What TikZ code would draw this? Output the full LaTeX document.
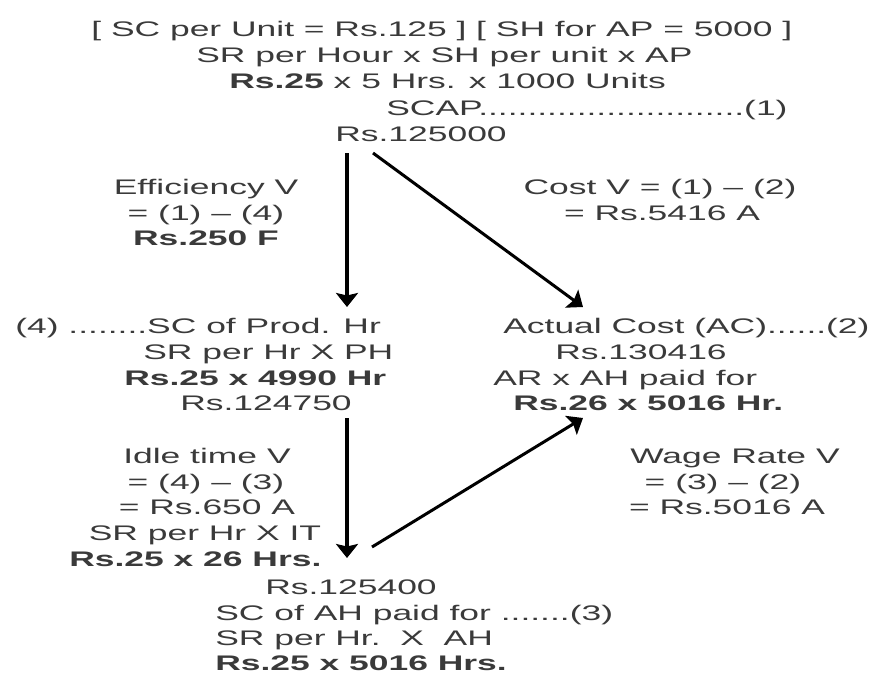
\documentclass[tikz,border=0pt]{standalone}
\usepackage{fontspec}
\setmainfont{Liberation Sans}[FakeStretch=1.68]
\usepackage{xcolor}
\usetikzlibrary{arrows.meta}
\definecolor{txtgray}{HTML}{3A3A3A}

\begin{document}
\begin{tikzpicture}[>={Stealth[length=0.28cm,width=0.44cm,inset=0.05cm]}]
    \tikzstyle{every node}=[font=\fontsize{12}{14.8}\selectfont, inner sep=0pt, text=txtgray]
    \tikzstyle{down}=[->, line width=2.2pt]
    \tikzstyle{slant}=[->, line width=1.7pt]
    \useasboundingbox (0, 0) rectangle (17.46, -13.48);

    % (1) standard cost of actual production
    \node[anchor=base west] (given) at (1.82, -0.72) {[ SC per Unit = Rs.125 ] [ SH for AP = 5000 ]};
    \node[anchor=base west] (scapf) at (3.92, -1.24) {SR per Hour x SH per unit x AP};
    \node[anchor=base west] (scapn) at (4.58, -1.76) {\textbf{Rs.25} x 5 Hrs. x 1000 Units};
    \node[anchor=base west] (scap) at (7.72, -2.30) {SCAP...........................(1)};
    \node[anchor=base west] (scapv) at (6.70, -2.82) {Rs.125000};

    % (4) standard cost of production hours
    \node[anchor=base west] (prod) at (0.30, -6.66) {(4) ........SC of Prod. Hr};
    \node[anchor=base west] (prodf) at (2.86, -7.18) {SR per Hr X PH};
    \node[anchor=base west] (prodn) at (2.48, -7.70) {\textbf{Rs.25 x 4990 Hr}};
    \node[anchor=base west] (prodv) at (3.60, -8.20) {Rs.124750};

    % (2) actual cost
    \node[anchor=base west] (ac) at (10.06, -6.66) {Actual Cost (AC)......(2)};
    \node[anchor=base west] (acv) at (11.10, -7.18) {Rs.130416};
    \node[anchor=base west] (acf) at (9.86, -7.70) {AR x AH paid for};
    \node[anchor=base west] (acn) at (10.26, -8.20) {\textbf{Rs.26 x 5016 Hr.}};

    % (3) standard cost of hours paid
    \node[anchor=base west] (ahv) at (5.30, -11.88) {Rs.125400};
    \node[anchor=base west] (ah) at (4.30, -12.40) {SC of AH paid for .......(3)};
    \node[anchor=base west] (ahf) at (4.30, -12.90) {SR per Hr.\ \ X\ \ AH};
    \node[anchor=base west] (ahn) at (4.30, -13.40) {\textbf{Rs.25 x 5016 Hrs.}};

    % variances
    \node[anchor=base] (eff) at (4.12, -3.88) {Efficiency V};
    \node[anchor=base] (effa) at (4.12, -4.40) {= (1) -- (4)};
    \node[anchor=base] (effb) at (4.12, -4.90) {\textbf{Rs.250 F}};

    \node[anchor=base] (cost) at (13.20, -3.88) {Cost V = (1) -- (2)};
    \node[anchor=base] (costa) at (13.24, -4.40) {= Rs.5416 A};

    \node[anchor=base] (idle) at (4.14, -9.26) {Idle time V};
    \node[anchor=base] (idlea) at (4.12, -9.78) {= (4) -- (3)};
    \node[anchor=base] (idleb) at (4.14, -10.28) {= Rs.650 A};
    \node[anchor=base] (idlec) at (4.10, -10.80) {SR per Hr X IT};
    \node[anchor=base west] (idled) at (1.38, -11.32) {\textbf{Rs.25 x 26 Hrs.}};

    \node[anchor=base] (wage) at (14.70, -9.26) {Wage Rate V};
    \node[anchor=base] (wagea) at (14.46, -9.78) {= (3) -- (2)};
    \node[anchor=base] (wageb) at (14.54, -10.28) {= Rs.5016 A};

    % arrow ends
    \coordinate (scapa) at (6.94, -3.06);
    \coordinate (scapb) at (7.46, -3.06);
    \coordinate (prodin) at (6.94, -6.14);
    \coordinate (prodout) at (6.94, -8.36);
    \coordinate (acin) at (11.66, -6.14);
    \coordinate (acup) at (11.66, -8.36);
    \coordinate (ahin) at (6.94, -11.16);
    \coordinate (ahout) at (7.44, -10.94);

    \draw[down] (scapa) -- (prodin);
    \draw[slant] (scapb) -- (acin);
    \draw[down] (prodout) -- (ahin);
    \draw[slant] (ahout) -- (acup);
\end{tikzpicture}
\end{document}
